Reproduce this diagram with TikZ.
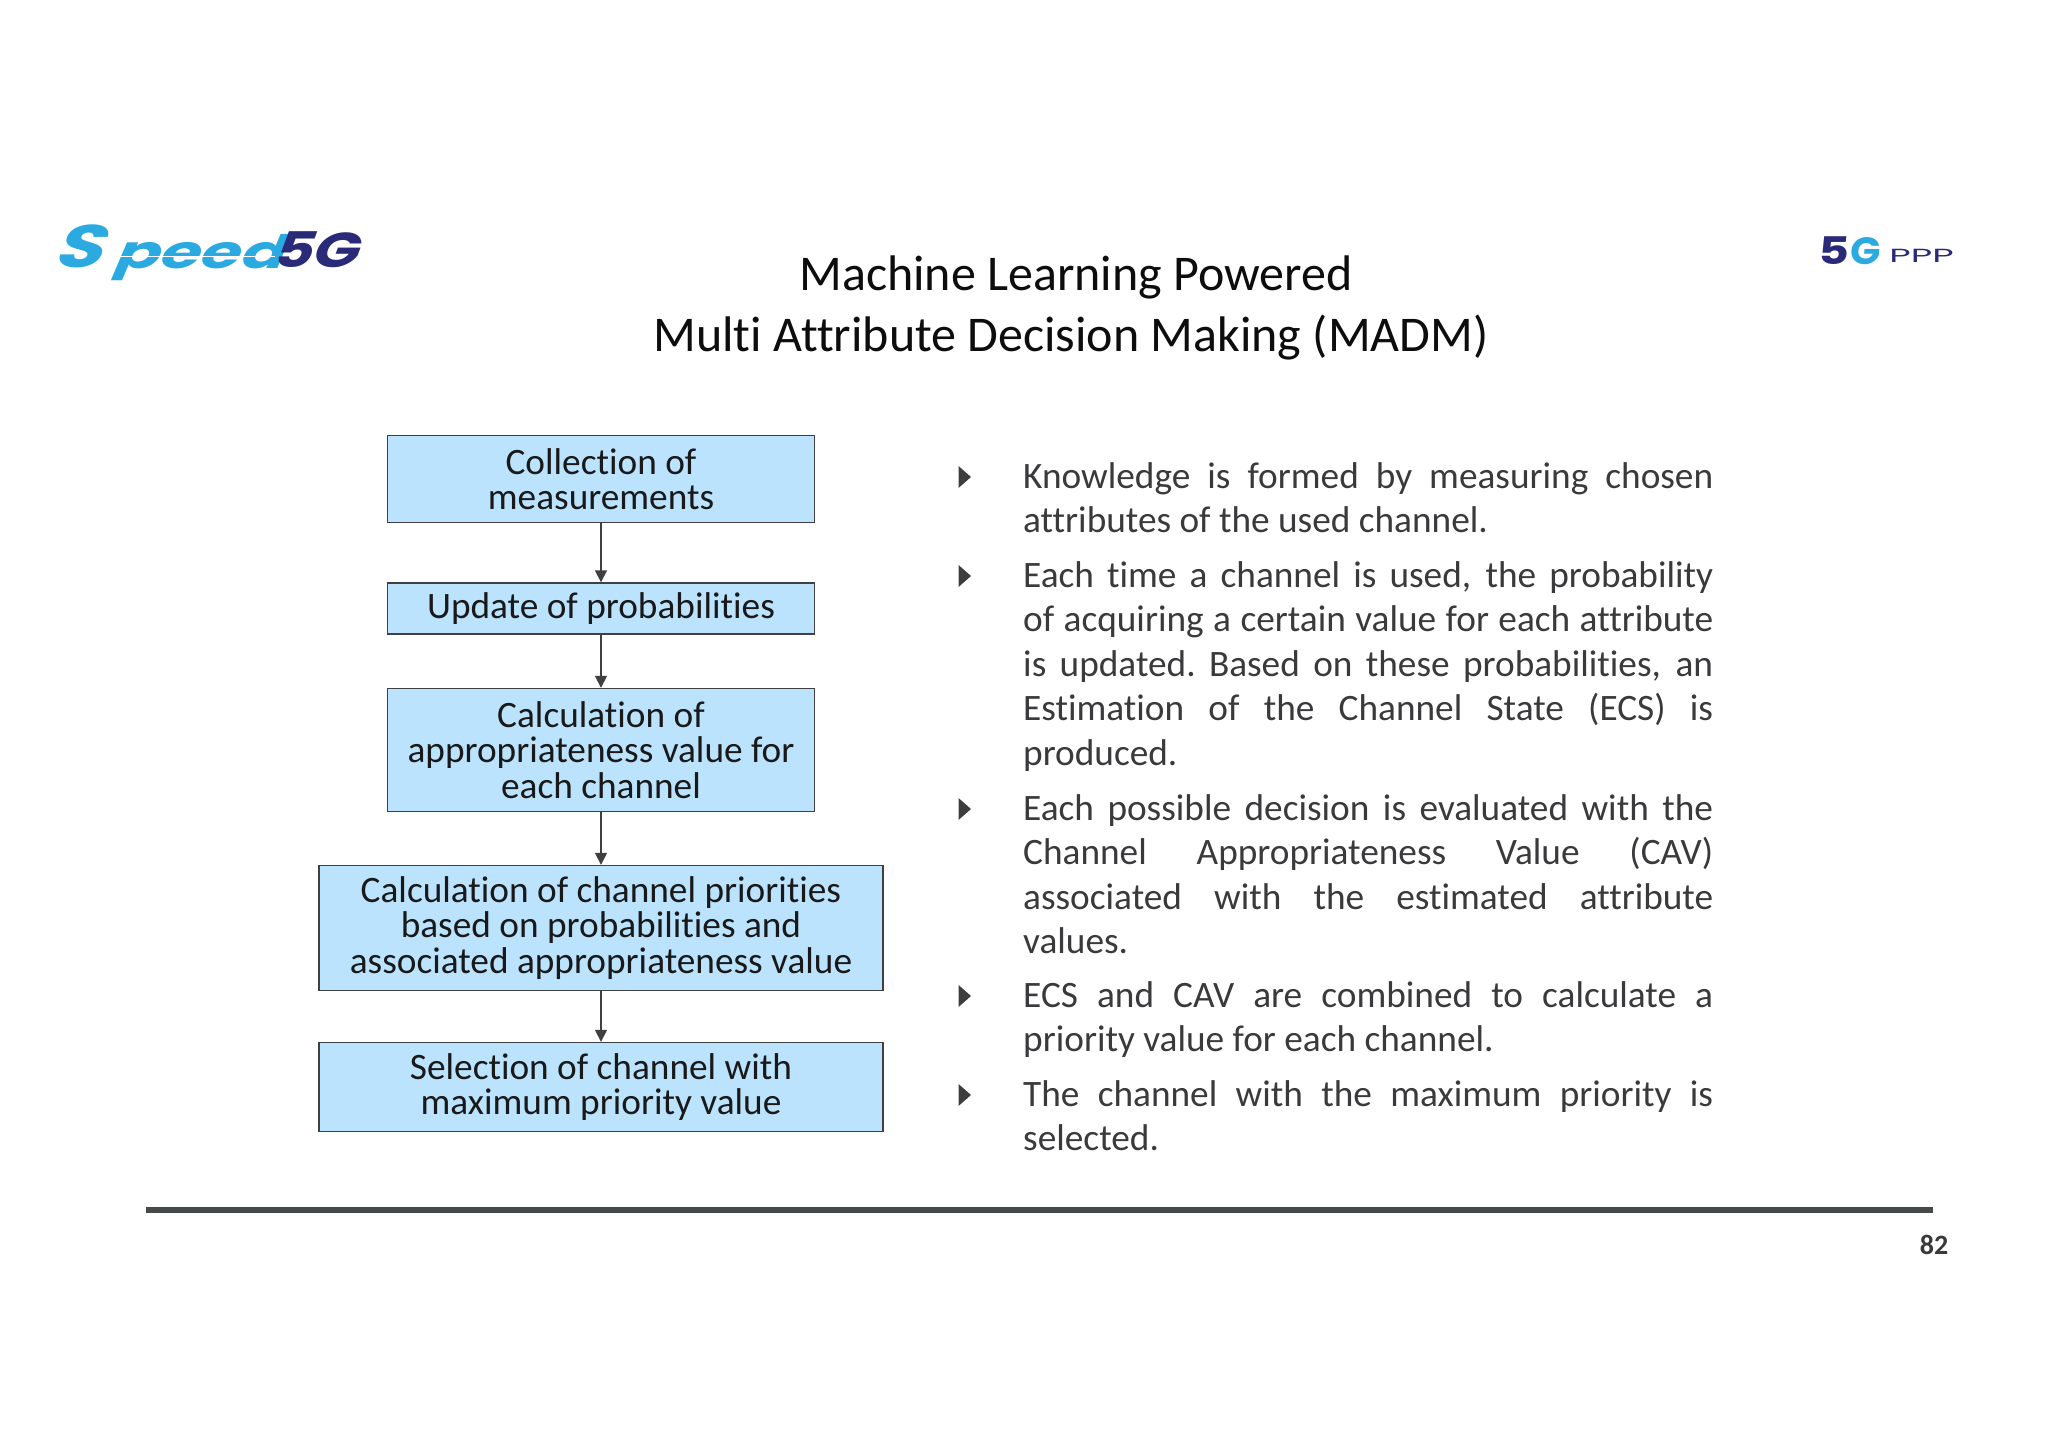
\documentclass[tikz,border=0pt]{standalone}
\usepackage{fontspec}
\usetikzlibrary{arrows.meta}
\setmainfont{Carlito}[Ligatures=NoCommon]
\newfontfamily\logofont{Poppins}[FakeSlant=0.3]
\newfontfamily\logoup{Poppins}[FakeSlant=0.08]
\newfontfamily\logoplain{Poppins}
\definecolor{boxfill}{HTML}{BBE3FD}
\definecolor{lineg}{HTML}{404040}
\definecolor{bodyg}{HTML}{3A3A3C}
\definecolor{rulec}{HTML}{44494A}
\definecolor{logoblue}{HTML}{2BA9E1}
\definecolor{logonavy}{HTML}{2A2A78}
\tikzset{
 flowbox/.style={draw=lineg,line width=1.4pt,fill=boxfill,inner sep=0pt,align=center,text=black!90,
   font=\fontsize{37.3}{35.6}\selectfont},
 flowarrow/.style={draw=lineg,line width=1.6pt,-{Triangle[length=12pt,width=12pt]}},
 titletext/.style={inner sep=0pt,anchor=base,text=black!95,font=\fontsize{50}{60}\selectfont},
 bodytext/.style={inner sep=0pt,anchor=base west,text=bodyg},
 bulletmark/.style={fill=lineg!95!black,draw=none},
 logotext/.style={inner sep=0pt,anchor=base west},
}
\newcommand{\bodypar}[1]{\parbox[t]{690pt}{\fontsize{37.3}{44.5}\selectfont\spaceskip=0.226em plus 1em\relax #1}}
\begin{document}
\begin{tikzpicture}[x=1pt,y=-1pt]
\useasboundingbox (0,0) rectangle (2048,1447);
\fill[white] (0,0) rectangle (2048,1447);
% titles
\node[titletext] (t1) at (1076,291) {Machine Learning Powered};
\node[titletext] (t2) at (1071,351) {Multi Attribute Decision Making (MADM)};
% logos
\node[logotext,text=logoblue,font=\logofont\bfseries\fontsize{60}{60}\selectfont,xscale=1.3] (sa) at (52,268) {S};
\node[logotext,text=logoblue,font=\logofont\bfseries\fontsize{46}{46}\selectfont,xscale=1.42] (sb) at (112,269) {peed};
\fill[white] (110,255.6) rectangle (275,256.6);
\node[logotext,text=logonavy,font=\logofont\bfseries\fontsize{49}{49}\selectfont,xscale=1.24] (fg) at (270,268) {5G};
\node[logotext,text=logonavy,font=\logoup\bfseries\fontsize{38}{38}\selectfont,xscale=1.25] (fa) at (1817,265) {5};
\node[logotext,text=logoblue,font=\logoup\bfseries\fontsize{38}{38}\selectfont,xscale=1.05] (fb) at (1849,265) {G};
\node[logotext,text=logonavy,font=\logoplain\fontsize{19}{19}\selectfont,xscale=1.95] (ppp) at (1889,263) {PPP};
% flow
\node[flowbox,minimum width=426.5pt,minimum height=87pt] (n1) at (601,479) {Collection of\\measurements};
\node[flowbox,minimum width=426.5pt,minimum height=51pt] (n2) at (601,608.5) {Update of probabilities};
\node[flowbox,minimum width=426.5pt,minimum height=123pt] (n3) at (601,750) {Calculation of\\appropriateness value for\\each channel};
\node[flowbox,minimum width=564pt,minimum height=125pt] (n4) at (601,928) {Calculation of channel priorities\\based on probabilities and\\associated appropriateness value};
\node[flowbox,minimum width=564pt,minimum height=89pt] (n5) at (601,1087) {Selection of channel with\\maximum priority value};
\draw[flowarrow] (n1) -- (n2);
\draw[flowarrow] (n2) -- (n3);
\draw[flowarrow] (n3) -- (n4);
\draw[flowarrow] (n4) -- (n5);
% bullets
\foreach \y in {477,576,809,996,1095}{
 \fill[bulletmark] (958.5,\y-11) -- (971,\y) -- (958.5,\y+11) -- cycle;
}
\node[bodytext] (b1) at (1023,488) {\bodypar{Knowledge is formed by measuring chosen\linebreak attributes of the used channel.}};
\node[bodytext] (b2) at (1023,587) {\bodypar{Each time a channel is used, the probability\linebreak of acquiring a certain value for each attribute\linebreak is updated.\ Based on these probabilities, an\linebreak Estimation of the Channel State (ECS) is\linebreak produced.}};
\node[bodytext] (b3) at (1023,820) {\bodypar{Each possible decision is evaluated with the\linebreak Channel Appropriateness Value (CAV)\linebreak associated with the estimated attribute\linebreak values.}};
\node[bodytext] (b4) at (1023,1007) {\bodypar{ECS and CAV are combined to calculate a\linebreak priority value for each channel.}};
\node[bodytext] (b5) at (1023,1106) {\bodypar{The channel with the maximum priority is\linebreak selected.}};
% footer
\fill[rulec] (146,1206.5) rectangle (1933,1212.5);
\node[inner sep=0pt,anchor=base,text=bodyg,font=\bfseries\fontsize{28}{28}\selectfont] (pg) at (1934,1254) {82};
\end{tikzpicture}
\end{document}
